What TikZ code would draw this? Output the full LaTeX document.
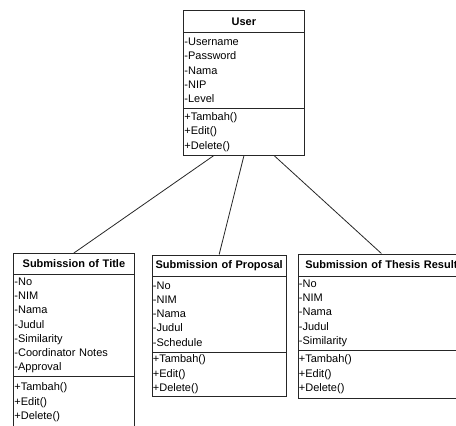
\documentclass[tikz,border=0pt]{standalone}
\usepackage{fontspec}
\setmainfont{Liberation Sans}
\usetikzlibrary{calc,positioning}

\tikzset{
	umlpart/.style={draw=black!85, line width=0.8pt, anchor=north west, inner xsep=1pt, inner ysep=0pt, align=left, font=\fontsize{11}{14.3}\selectfont},
	umltitle/.style={umlpart, align=center, font=\fontsize{11}{13}\selectfont\bfseries},
	umlline/.style={draw=black!85, line width=0.8pt}
}

\begin{document}
\begin{tikzpicture}[x=1pt, y=-1pt]
		%%%%% START %%%%%
		\useasboundingbox (0, 0) rectangle (456, 426);
		\clip (0, 0) rectangle (456, 426);
		
		% User
		\node[umltitle, text width=119, minimum height=22] (user) at (183, 10) {User};
		\node[umlpart, text width=119, minimum height=76] (user-attr) at (183, 32) {-Username\\-Password\\-Nama\\-NIP\\-Level};
		\node[umlpart, text width=119, minimum height=47] (user-op) at (183, 108) {+Tambah()\\+Edit()\\+Delete()};
		
		% Submission of Title
		\node[umltitle, text width=119, minimum height=21] (title) at (13, 253) {Submission of Title};
		\node[umlpart, text width=119, minimum height=102] (title-attr) at (13, 274) {-No\\-NIM\\-Nama\\-Judul\\-Similarity\\-Coordinator Notes\\-Approval};
		\node[umlpart, text width=119, minimum height=52] (title-op) at (13, 376) {+Tambah()\\+Edit()\\+Delete()};
		
		% Submission of Proposal
		\node[umltitle, text width=132.5, minimum height=21] (proposal) at (151.5, 254.5) {Submission of Proposal};
		\node[umlpart, text width=132.5, minimum height=76] (proposal-attr) at (151.5, 275.5) {-No\\-NIM\\-Nama\\-Judul\\-Schedule};
		\node[umlpart, text width=132.5, minimum height=44.5] (proposal-op) at (151.5, 351.5) {+Tambah()\\+Edit()\\+Delete()};
		
		% Submission of Thesis Result
		\node[umltitle, text width=165, minimum height=22] (thesis) at (297.5, 253.5) {Submission of Thesis Result};
		\node[umlpart, text width=165, minimum height=74.5] (thesis-attr) at (297.5, 275.5) {-No\\-NIM\\-Nama\\-Judul\\-Similarity};
		\node[umlpart, text width=165, minimum height=48] (thesis-op) at (297.5, 350) {+Tambah()\\+Edit()\\+Delete()};
		
		% associations
		\draw[umlline] ($(user-op.south west)!0.25!(user-op.south east)$) -- (title.north);
		\draw[umlline] (user-op.south) -- (proposal.north);
		\draw[umlline] ($(user-op.south west)!0.75!(user-op.south east)$) -- (thesis.north);
		
		%%%%% END %%%%%
	\end{tikzpicture}
\end{document}
